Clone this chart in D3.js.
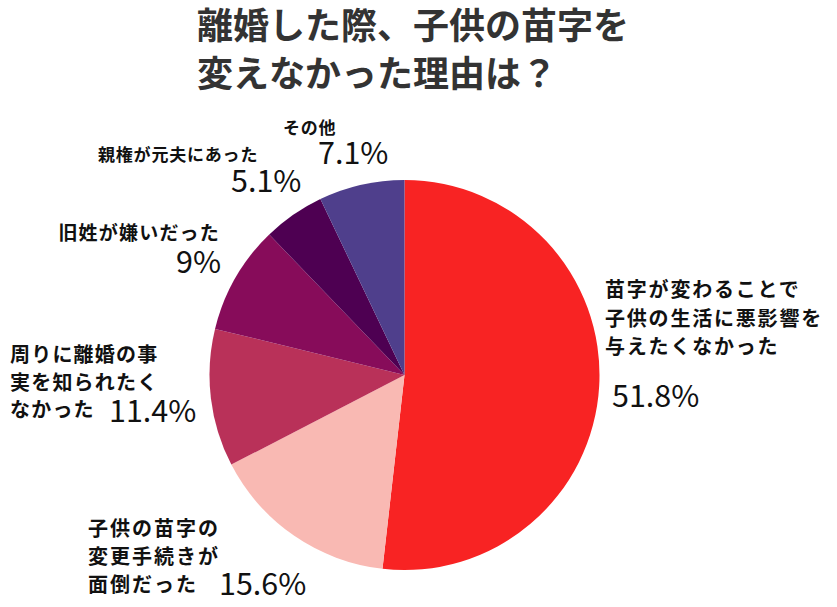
<!DOCTYPE html>
<html>
<head>
<meta charset="utf-8">
<script src="https://cdn.jsdelivr.net/npm/d3@7"></script>
<style>
  body { margin: 0; background: #fff; }
  svg { display: block; }
</style>
</head>
<body>
<div id="chart"></div>
<script>
var titleLines = ['離婚した際、子供の苗字を', '変えなかった理由は？'];

var categories = [
  '苗字が変わることで子供の生活に悪影響を与えたくなかった',
  '子供の苗字の変更手続きが面倒だった',
  '周りに離婚の事実を知られたくなかった',
  '旧姓が嫌いだった',
  '親権が元夫にあった',
  'その他'
];
var values = [51.8, 15.6, 11.4, 9, 5.1, 7.1];
var valueLabels = ['51.8%', '15.6%', '11.4%', '9%', '5.1%', '7.1%'];
var colors = ['#f82323', '#f9b9b3', '#b93159', '#870c5a', '#4e0052', '#4f3f8c'];

// label text split into lines as shown in the picture
var labelLines = [
  ['苗字が変わることで', '子供の生活に悪影響を', '与えたくなかった'],
  ['子供の苗字の', '変更手続きが', '面倒だった'],
  ['周りに離婚の事', '実を知られたく', 'なかった'],
  ['旧姓が嫌いだった'],
  ['親権が元夫にあった'],
  ['その他']
];

// label placement (text x, first baseline, line gap, size, anchor, pct x, pct baseline)
var labelLayout = [
  {x: 605, y: 297, gap: 28.5, size: 20, ls: 1.8, anchor: 'start', px: 612, py: 407},
  {x: 88,  y: 536, gap: 28,   size: 20, ls: 2,   anchor: 'start', px: 219, py: 595},
  {x: 10,  y: 362, gap: 27.5, size: 20, ls: 1.2, anchor: 'start', px: 109, py: 422},
  {x: 220, y: 240, gap: 28,   size: 19, ls: 1.2, anchor: 'end',   px: 221, py: 273, panchor: 'end'},
  {x: 98,  y: 161, gap: 28,   size: 17, ls: 0.8, anchor: 'start', px: 231, py: 192},
  {x: 283, y: 134, gap: 28,   size: 17, ls: 0.8, anchor: 'start', px: 318, py: 164}
];

var width = 837, height = 607;
var cx = 404.5, cy = 375, radius = 195;

var svg = d3.select('#chart')
  .append('svg')
  .attr('width', width)
  .attr('height', height);

var fontFamily = '"Noto Sans CJK JP", "Noto Sans", sans-serif';

// Title
svg.append('g')
  .classed('title', true)
  .selectAll('text')
  .data(titleLines)
  .enter()
  .append('text')
  .attr('x', 197)
  .attr('y', (d, i) => 39 + i * 48)
  .style('font-family', fontFamily)
  .style('font-size', '36px')
  .style('font-weight', 700)
  .style('fill', '#333')
  .text(d => d);

// Pie
var data = categories.map((c, i) => ({name: c, value: values[i], color: colors[i]}));

var pie = d3.pie()
  .sort(null)
  .value(d => d.value);

var arc = d3.arc()
  .innerRadius(0)
  .outerRadius(radius);

var pie_group = svg.append('g')
  .attr('transform', 'translate(' + cx + ',' + cy + ')');

pie_group.selectAll('path')
  .data(pie(data))
  .enter()
  .append('path')
  .attr('d', arc)
  .style('fill', d => d.data.color)
  .style('stroke', 'none');

// Labels
var label_group = svg.append('g').classed('labels', true);

labelLayout.forEach(function(lay, i){
  label_group.append('g')
    .selectAll('text')
    .data(labelLines[i])
    .enter()
    .append('text')
    .attr('x', lay.x)
    .attr('y', (d, j) => lay.y + j * lay.gap)
    .attr('text-anchor', lay.anchor)
    .style('font-family', fontFamily)
    .style('font-size', lay.size + 'px')
    .style('font-weight', 700)
    .style('letter-spacing', lay.ls + 'px')
    .style('fill', '#111')
    .text(d => d);

  label_group.append('text')
    .attr('x', lay.px)
    .attr('y', lay.py)
    .attr('text-anchor', lay.panchor || 'start')
    .style('font-family', fontFamily)
    .style('font-size', '30.5px')
    .style('font-weight', 400)
    .style('fill', '#111')
    .text(valueLabels[i]);
});
</script>
</body>
</html>
